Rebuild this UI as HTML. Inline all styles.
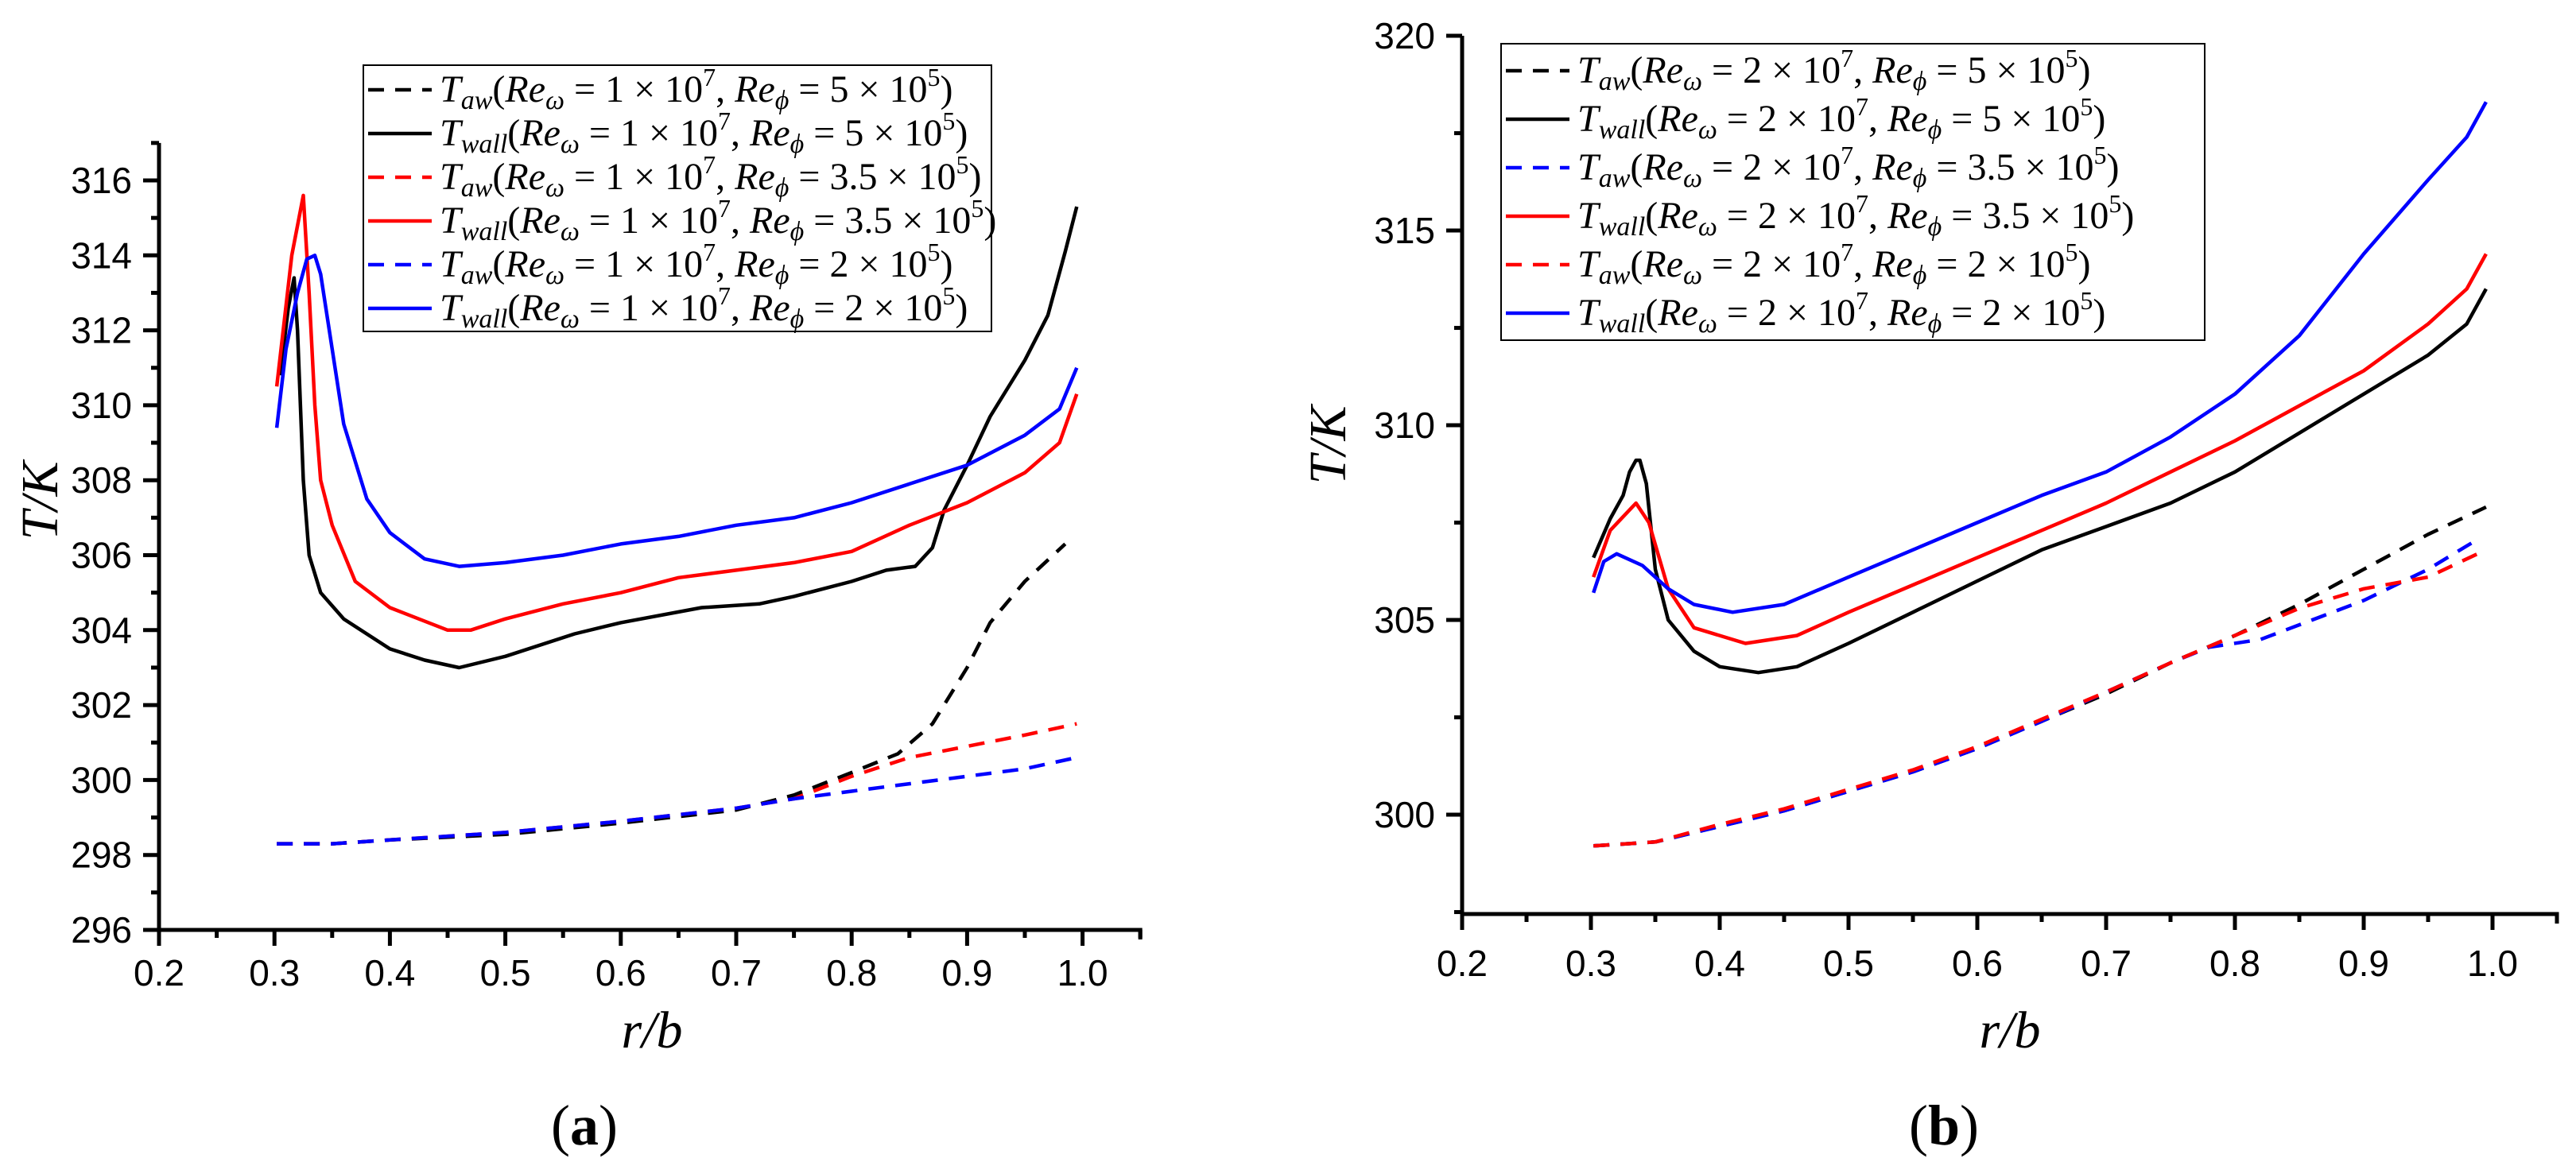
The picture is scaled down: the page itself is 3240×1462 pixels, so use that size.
<!DOCTYPE html>
<html><head><meta charset="utf-8"><style>
html,body{margin:0;padding:0;background:#fff;}
svg{display:block;}
.tick{font-family:"Liberation Sans",sans-serif;font-size:46px;fill:#000;}
.lg{font-family:"Liberation Serif",serif;fill:#000;}
.it{font-style:italic;}
</style></head><body>
<svg id="fig" width="3240" height="1462" viewBox="0 0 3240 1462" xmlns="http://www.w3.org/2000/svg"></svg>
<script>
// ---- Panel (a) data ----
const aBlkWallX=[0.305,0.312,0.317,0.32,0.325,0.33,0.34,0.36,0.4,0.43,0.46,0.5,0.56,0.6,0.67,0.72,0.75,0.8,0.83,0.855,0.87,0.88,0.9,0.92,0.95,0.97,0.985,0.995];
const aBlkWallY=[310.8,312.6,313.4,312.0,308.0,306.0,305.0,304.3,303.5,303.2,303.0,303.3,303.9,304.2,304.6,304.7,304.9,305.3,305.6,305.7,306.2,307.2,308.4,309.7,311.2,312.4,314.1,315.3];
const aRedWallX=[0.302,0.315,0.325,0.33,0.335,0.34,0.35,0.37,0.4,0.45,0.47,0.5,0.55,0.6,0.65,0.7,0.75,0.8,0.85,0.9,0.95,0.98,0.995];
const aRedWallY=[310.5,314.0,315.6,313.0,310.0,308.0,306.8,305.3,304.6,304.0,304.0,304.3,304.7,305.0,305.4,305.6,305.8,306.1,306.8,307.4,308.2,309.0,310.3];
const aBluWallX=[0.302,0.31,0.32,0.328,0.335,0.34,0.35,0.36,0.38,0.4,0.43,0.46,0.5,0.55,0.6,0.65,0.7,0.75,0.8,0.85,0.9,0.95,0.98,0.995];
const aBluWallY=[309.4,311.5,313.0,313.9,314.0,313.5,311.5,309.5,307.5,306.6,305.9,305.7,305.8,306.0,306.3,306.5,306.8,307.0,307.4,307.9,308.4,309.2,309.9,311.0];
const aBlkAwX=[0.302,0.35,0.4,0.5,0.6,0.7,0.75,0.8,0.84,0.87,0.9,0.92,0.95,0.985];
const aBlkAwY=[298.3,298.3,298.4,298.55,298.85,299.2,299.6,300.2,300.7,301.5,303.0,304.2,305.3,306.3];
const aRedAwX=[0.302,0.35,0.4,0.5,0.6,0.7,0.75,0.8,0.85,0.9,0.95,0.995];
const aRedAwY=[298.3,298.3,298.4,298.6,298.9,299.25,299.5,300.1,300.6,300.9,301.2,301.5];
const aBluAwX=[0.302,0.35,0.4,0.5,0.6,0.7,0.75,0.8,0.85,0.9,0.95,0.995];
const aBluAwY=[298.3,298.3,298.4,298.6,298.9,299.25,299.5,299.7,299.9,300.1,300.3,300.6];
const aXTicks=[0.2,0.3,0.4,0.5,0.6,0.7,0.8,0.9,1.0];
const aXLabels=["0.2","0.3","0.4","0.5","0.6","0.7","0.8","0.9","1.0"];
const aYTicks=[296,298,300,302,304,306,308,310,312,314,316];
const aYLabels=["296","298","300","302","304","306","308","310","312","314","316"];
// ---- Panel (b) data ----
const bBlkWallX=[0.302,0.315,0.325,0.33,0.335,0.338,0.343,0.35,0.36,0.38,0.4,0.43,0.46,0.5,0.55,0.6,0.65,0.7,0.75,0.8,0.85,0.9,0.95,0.98,0.995];
const bBlkWallY=[306.6,307.6,308.2,308.8,309.1,309.1,308.5,306.3,305.0,304.2,303.8,303.65,303.8,304.4,305.2,306.0,306.8,307.4,308.0,308.8,309.8,310.8,311.8,312.6,313.5];
const bRedWallX=[0.302,0.315,0.335,0.345,0.36,0.38,0.42,0.46,0.5,0.55,0.6,0.65,0.7,0.75,0.8,0.85,0.9,0.95,0.98,0.995];
const bRedWallY=[306.1,307.3,308.0,307.5,305.8,304.8,304.4,304.6,305.2,305.9,306.6,307.3,308.0,308.8,309.6,310.5,311.4,312.6,313.5,314.4];
const bBluWallX=[0.302,0.31,0.32,0.34,0.36,0.38,0.41,0.45,0.5,0.55,0.6,0.65,0.7,0.75,0.8,0.85,0.9,0.95,0.98,0.995];
const bBluWallY=[305.7,306.5,306.7,306.4,305.8,305.4,305.2,305.4,306.1,306.8,307.5,308.2,308.8,309.7,310.8,312.3,314.4,316.3,317.4,318.3];
const bBlkAwX=[0.302,0.35,0.4,0.45,0.5,0.55,0.6,0.65,0.7,0.75,0.8,0.85,0.9,0.95,0.995];
const bBlkAwY=[299.2,299.3,299.7,300.1,300.6,301.1,301.7,302.4,303.1,303.9,304.6,305.4,306.3,307.2,307.9];
const bRedAwX=[0.302,0.35,0.4,0.45,0.5,0.55,0.6,0.65,0.7,0.75,0.8,0.85,0.9,0.95,0.995];
const bRedAwY=[299.2,299.3,299.75,300.15,300.65,301.15,301.75,302.45,303.15,303.9,304.6,305.3,305.8,306.1,306.8];
const bBluAwX=[0.302,0.35,0.4,0.45,0.5,0.55,0.6,0.65,0.7,0.75,0.78,0.82,0.86,0.9,0.95,0.99];
const bBluAwY=[299.2,299.3,299.7,300.1,300.6,301.1,301.7,302.4,303.15,303.9,304.3,304.5,305.0,305.5,306.3,307.1];
const bXTicks=[0.2,0.3,0.4,0.5,0.6,0.7,0.8,0.9,1.0];
const bXLabels=["0.2","0.3","0.4","0.5","0.6","0.7","0.8","0.9","1.0"];
const bYTicks=[300,305,310,315,320];
const bYLabels=["300","305","310","315","320"];

const NS="http://www.w3.org/2000/svg";
const svg=document.getElementById('fig');
function mk(tag,attrs,parent){const e=document.createElementNS(NS,tag);for(const k in attrs)e.setAttribute(k,attrs[k]);(parent||svg).appendChild(e);return e;}

function panel(p){
  const g=mk('g',{});
  
  
  const sx=v=>p.x0+(v-0.2)*p.pxX*10;
  const sy=v=>p.yBase-(v-p.yMin)*p.pxY;
  const yTop=sy(p.yMax), yBot=sy(p.yMin), xEnd=sx(1.05);
  const ax=mk('path',{d:`M${p.x0} ${yTop} V${yBot} H${xEnd} V${yBot+12}`,stroke:'#000','stroke-width':5,fill:'none'},g);
  
  
  for(let k=0;k<=17;k++){
    const v=0.2+k*0.05;
    const major=k%2===0;
    mk('line',{x1:sx(v),x2:sx(v),y1:yBot,y2:yBot+(major?20:10),stroke:'#000','stroke-width':5},g);
  }
  p.xt.forEach((v,i)=>{
    const t=mk('text',{x:sx(v),y:p.xLabY,'text-anchor':'middle',class:'tick'},g);
    t.textContent=p.xl[i];
    
    
  });
  const nMinor=Math.floor((p.yMax-p.yMin)/p.yMinor+1e-6);
  for(let k=0;k<=nMinor;k++){
    const v=p.yTick0+k*p.yMinor;
    if(v>p.yMax+1e-6)break;
    const major=p.yt.some(m=>Math.abs(m-v)<1e-6);
    mk('line',{x1:p.x0,x2:p.x0-(major?20:10),y1:sy(v),y2:sy(v),stroke:'#000','stroke-width':5},g);
  }
  p.yt.forEach((v,i)=>{
    const t=mk('text',{x:p.x0-34,y:sy(v)+16,'text-anchor':'end',class:'tick'},g);
    t.textContent=p.yl[i];
    
    
  });
  p.series.forEach(s=>{
    const d=s.x.map((v,i)=>(i?'L':'M')+sx(v).toFixed(1)+' '+sy(s.y[i]).toFixed(1)).join(' ');
    const path=mk('path',{d:d,stroke:s.c,'stroke-width':4.5,fill:'none','stroke-linejoin':'round'},g);
    if(s.dash)path.setAttribute('stroke-dasharray','20 14');
    
    
  });
  const xt=mk('text',{x:p.xTitleX,y:p.xTitleY,'text-anchor':'middle',class:'lg it',style:'font-size:66px'},g);
  xt.textContent='r/b';
  
  
  const yt=mk('text',{x:0,y:0,'text-anchor':'middle',class:'lg it',style:'font-size:66px',transform:`translate(${p.yTitleX},${p.yTitleY}) rotate(-90)`},g);
  yt.textContent='T/K';
  
  
  const cap=mk('text',{x:p.capX,y:1440,'text-anchor':'middle',class:'lg',style:'font-size:72px'},g);
  cap.innerHTML='(<tspan font-weight="bold">'+p.cap+'</tspan>)';
  
  
  const lb=mk('rect',{x:p.lg[0],y:p.lg[1],width:p.lg[2],height:p.lg[3],fill:'#fff',stroke:'#000','stroke-width':2},g);
  
  
  p.legend.forEach((L,i)=>{
    const cy=p.lgRow0+i*p.lgStep;
    const ln=mk('line',{x1:p.lg[0]+6,x2:p.lg[0]+86,y1:cy,y2:cy,stroke:L.c,'stroke-width':4.5},g);
    if(L.dash)ln.setAttribute('stroke-dasharray','20 14');
    
    
    const t=mk('text',{x:p.lg[0]+96,y:cy+15,class:'lg',style:'font-size:48px'},g);
    t.innerHTML=`<tspan class="it">T</tspan><tspan class="it" style="font-size:34px" dy="9">${L.sub}</tspan><tspan dy="-9">(</tspan><tspan class="it">Re</tspan><tspan class="it" style="font-size:34px" dy="9">ω</tspan><tspan dy="-9"> = ${p.rew} × 10</tspan><tspan style="font-size:32px" dy="-20">7</tspan><tspan dy="20">, </tspan><tspan class="it">Re</tspan><tspan class="it" style="font-size:34px" dy="9">ϕ</tspan><tspan dy="-9"> = ${L.rp} × 10</tspan><tspan style="font-size:32px" dy="-20">5</tspan><tspan dy="20">)</tspan>`;
    
    
  });
}

panel({name:'panel-a',x0:200,pxX:145.2,yBase:1170,yMin:296,yMax:317,yTick0:296,pxY:47.15,yMinor:1,
  xt:aXTicks,xl:aXLabels,yt:aYTicks,yl:aYLabels,xLabY:1240,xTitleX:820,xTitleY:1318,yTitleX:72,yTitleY:630,capX:735,cap:'a',
  lg:[457,82,790,335],lgRow0:113,lgStep:55,rew:'1',
  legend:[{c:'#000',dash:1,sub:'aw',rp:'5'},{c:'#000',sub:'wall',rp:'5'},{c:'#f00',dash:1,sub:'aw',rp:'3.5'},{c:'#f00',sub:'wall',rp:'3.5'},{c:'#00f',dash:1,sub:'aw',rp:'2'},{c:'#00f',sub:'wall',rp:'2'}],
  series:[{x:aBlkAwX,y:aBlkAwY,c:'#000',dash:1,n:'taw-rephi-5e5'},{x:aRedAwX,y:aRedAwY,c:'#f00',dash:1,n:'taw-rephi-3.5e5'},{x:aBluAwX,y:aBluAwY,c:'#00f',dash:1,n:'taw-rephi-2e5'},
    {x:aBlkWallX,y:aBlkWallY,c:'#000',n:'twall-rephi-5e5'},{x:aRedWallX,y:aRedWallY,c:'#f00',n:'twall-rephi-3.5e5'},{x:aBluWallX,y:aBluWallY,c:'#00f',n:'twall-rephi-2e5'}]});

panel({name:'panel-b',x0:1839,pxX:162,yBase:1150,yMin:297.45,yMax:320,yTick0:297.5,pxY:49,yMinor:2.5,
  xt:bXTicks,xl:bXLabels,yt:bYTicks,yl:bYLabels,xLabY:1228,xTitleX:2528,xTitleY:1318,yTitleX:1692,yTitleY:560,capX:2445,cap:'b',
  lg:[1888,55,885,373],lgRow0:89,lgStep:61,rew:'2',
  legend:[{c:'#000',dash:1,sub:'aw',rp:'5'},{c:'#000',sub:'wall',rp:'5'},{c:'#00f',dash:1,sub:'aw',rp:'3.5'},{c:'#f00',sub:'wall',rp:'3.5'},{c:'#f00',dash:1,sub:'aw',rp:'2'},{c:'#00f',sub:'wall',rp:'2'}],
  series:[{x:bBlkAwX,y:bBlkAwY,c:'#000',dash:1,n:'taw-rephi-5e5'},{x:bBluAwX,y:bBluAwY,c:'#00f',dash:1,n:'taw-rephi-3.5e5'},{x:bRedAwX,y:bRedAwY,c:'#f00',dash:1,n:'taw-rephi-2e5'},
    {x:bBlkWallX,y:bBlkWallY,c:'#000',n:'twall-rephi-5e5'},{x:bRedWallX,y:bRedWallY,c:'#f00',n:'twall-rephi-3.5e5'},{x:bBluWallX,y:bBluWallY,c:'#00f',n:'twall-rephi-2e5'}]});
</script>
</body></html>
